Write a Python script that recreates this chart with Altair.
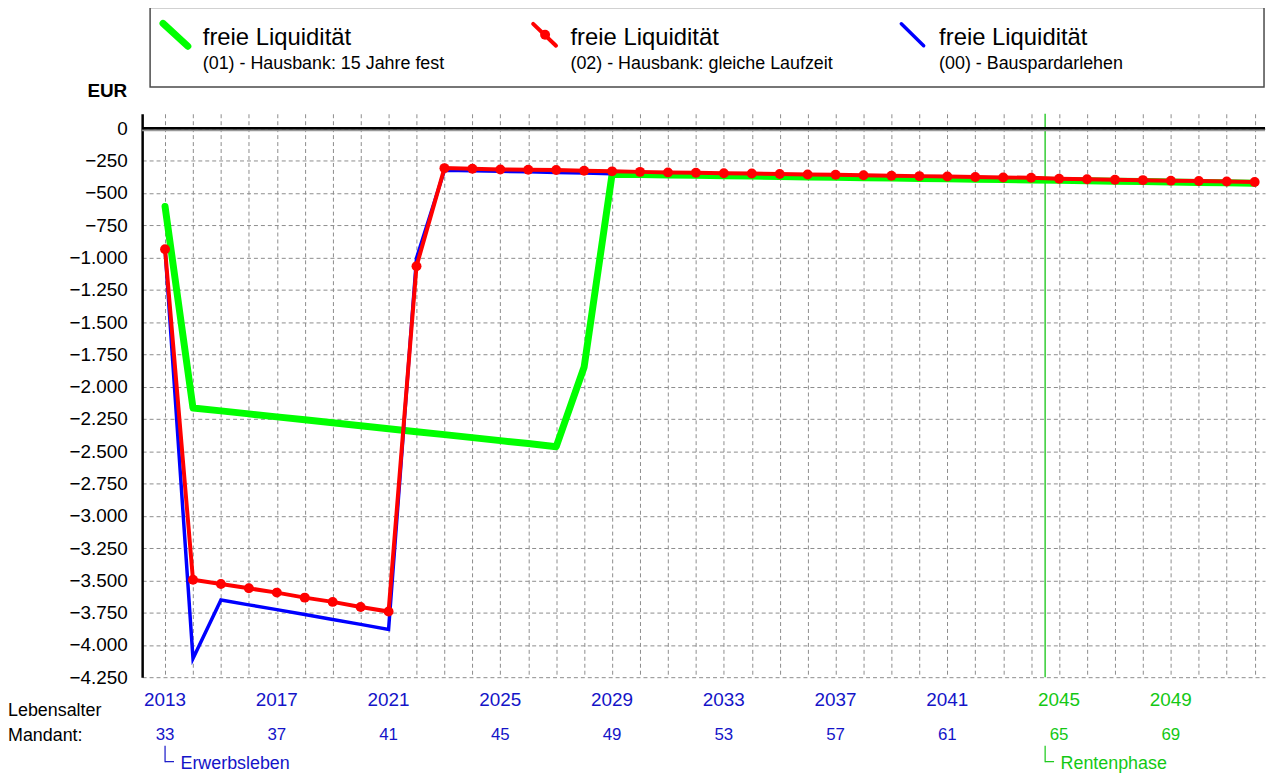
import altair as alt
import pandas as pd

# ---------------- data ----------------
years_01 = list(range(2013, 2053))
values_01 = [-605, -2165, -2188, -2211, -2234, -2257, -2280, -2303, -2326, -2349,
             -2372, -2395, -2418, -2441, -2465, -1848, -355, -358, -361, -364,
             -367, -370, -373, -376, -379, -382, -385, -388, -391, -394,
             -397, -400, -403, -406, -409, -412, -416, -419, -422, -425]

years_02 = list(range(2013, 2053))
values_02 = [-936, -3496, -3529, -3562, -3595, -3634, -3667, -3706, -3742, -1067,
             -308, -313, -318, -321, -323, -328, -333, -337, -341, -344,
             -347, -350, -353, -357, -360, -363, -367, -370, -373, -377,
             -380, -383, -390, -394, -398, -401, -405, -408, -412, -416]

years_00 = list(range(2013, 2030))
values_00 = [-936, -4106, -3652, -3690, -3727, -3765, -3803, -3841, -3880, -1005,
             -325, -329, -333, -337, -341, -346, -351]

y_tick_values = list(range(-4250, 1, 250))
grid_years = list(range(2013, 2053))
zero_line = [0]

label_years = list(range(2013, 2050, 4))
label_ages = list(range(33, 70, 4))
label_phase = ["Erwerbsleben"] * 8 + ["Rentenphase"] * 2

phase_names = ["Erwerbsleben", "Rentenphase"]
phase_start = [2013, 2044.5]

legend_main = ["freie Liquidität", "freie Liquidität", "freie Liquidität"]
legend_sub = ["(01) - Hausbank: 15 Jahre fest",
              "(02) - Hausbank: gleiche Laufzeit",
              "(00) - Bauspardarlehen"]

# ---------------- styling ----------------
FONT = "Liberation Sans"
W, H = 1130, 567
BLUE_TXT = "#1414c8"
GREEN_TXT = "#14c814"

xs = alt.Scale(domain=[2012.18, 2052.37], nice=False, zero=False)
ys = alt.Scale(domain=[-4250, 113], nice=False, zero=False)
phase_scale = alt.Scale(domain=phase_names, range=[BLUE_TXT, GREEN_TXT])

x_axis = alt.Axis(values=grid_years, labels=False, ticks=False, domain=False,
                  grid=True, gridDash=[4, 3], gridColor="#8c8c8c", gridWidth=1,
                  title=None)
y_axis = alt.Axis(values=y_tick_values,
                  labelExpr="replace(format(datum.value, ','), ',', '.')",
                  labelFontSize=19, labelFont=FONT, labelColor="black",
                  labelPadding=15, ticks=False, domain=True, domainColor="black",
                  domainWidth=2.5, grid=True, gridDash=[4, 3], gridColor="#8c8c8c",
                  gridWidth=1, title=None)


def X(field="year:Q"):
    return alt.X(field, scale=xs, axis=x_axis, title=None)


def Y(field="value:Q"):
    return alt.Y(field, scale=ys, axis=y_axis, title=None)


df01 = pd.DataFrame({"year": years_01, "value": values_01})
df02 = pd.DataFrame({"year": years_02, "value": values_02})
df00 = pd.DataFrame({"year": years_00, "value": values_00})
dfzero = pd.DataFrame({"value": zero_line})
dflab = pd.DataFrame({"year": label_years, "age": label_ages, "phase": label_phase})
dfphase = pd.DataFrame({"phase": phase_names, "year": phase_start})
dfleg = pd.DataFrame({"main": legend_main, "sub": legend_sub, "idx": [0, 1, 2]})
one = pd.DataFrame({"a": [0]})

zero_gray = alt.Chart(dfzero).mark_rule(color="#9a9a9a", strokeWidth=2, yOffset=2).encode(y=Y())
zero_black = alt.Chart(dfzero).mark_rule(color="black", strokeWidth=2.5).encode(y=Y())

rente_line = alt.Chart(dfphase).transform_filter(
    alt.datum.phase == "Rentenphase").mark_rule(color="#33cc33", strokeWidth=1.5).encode(x=X())

line01 = alt.Chart(df01).mark_line(color="#00ff00", strokeWidth=7, strokeCap="round",
                                   strokeJoin="round").encode(x=X(), y=Y())
line00 = alt.Chart(df00).mark_line(color="#0000ff", strokeWidth=3.5).encode(x=X(), y=Y())
line02 = alt.Chart(df02).mark_line(color="#ff0000", strokeWidth=4).encode(x=X(), y=Y())
pts02 = alt.Chart(df02).mark_point(color="#ff0000", filled=True, size=100, opacity=1).encode(
    x=X(), y=Y())

year_txt = alt.Chart(dflab).mark_text(font=FONT, fontSize=19, baseline="alphabetic",
                                      align="center").encode(
    x=X(), y=alt.value(595.5),
    text=alt.Text("year:Q", format="d"),
    color=alt.Color("phase:N", scale=phase_scale, legend=None))
age_txt = alt.Chart(dflab).mark_text(font=FONT, fontSize=17, baseline="alphabetic",
                                     align="center").encode(
    x=X(), y=alt.value(630.5),
    text=alt.Text("age:Q", format="d"),
    color=alt.Color("phase:N", scale=phase_scale, legend=None))

phase_txt = alt.Chart(dfphase).mark_text(font=FONT, fontSize=18, baseline="alphabetic",
                                         align="left", dx=15.5).encode(
    x=X(), y=alt.value(659.5),
    text="phase:N",
    color=alt.Color("phase:N", scale=phase_scale, legend=None))
phase_v = alt.Chart(dfphase).mark_rule(strokeWidth=1.2).encode(
    x=X(), y=alt.value(636), y2=alt.value(652.5),
    color=alt.Color("phase:N", scale=phase_scale, legend=None))
phase_h = alt.Chart(dfphase).transform_calculate(yend="datum.year + 0.32").mark_rule(
    strokeWidth=1.2).encode(
    x=X(), x2="yend:Q", y=alt.value(652),
    color=alt.Color("phase:N", scale=phase_scale, legend=None))

lebens = alt.Chart(one).mark_text(font=FONT, fontSize=18, align="left", baseline="alphabetic",
                                  color="black", text="Lebensalter").encode(
    x=alt.value(-135), y=alt.value(606.5))
mandant = alt.Chart(one).mark_text(font=FONT, fontSize=18, align="left", baseline="alphabetic",
                                   color="black", text="Mandant:").encode(
    x=alt.value(-135), y=alt.value(631))
eur = alt.Chart(one).mark_text(font=FONT, fontSize=19, fontWeight="bold", align="right",
                               baseline="alphabetic", color="black", text="EUR").encode(
    x=alt.value(-15), y=alt.value(-17))

# legend
leg_box = alt.Chart(one).mark_rect(fill="white", stroke="#4a4a4a", strokeWidth=1.5).encode(
    x=alt.value(8), x2=alt.value(1129), y=alt.value(-107), y2=alt.value(-27))
sym01 = alt.Chart(one).mark_rule(color="#00ff00", strokeWidth=7, strokeCap="round").encode(
    x=alt.value(21), x2=alt.value(46), y=alt.value(-91), y2=alt.value(-68))
sym02 = alt.Chart(one).mark_rule(color="#ff0000", strokeWidth=4, strokeCap="round").encode(
    x=alt.value(393.5), x2=alt.value(416.5), y=alt.value(-90.5), y2=alt.value(-68.5))
sym02p = alt.Chart(one).mark_point(color="#ff0000", filled=True, size=100, opacity=1).encode(
    x=alt.value(405.5), y=alt.value(-79.5))
sym00 = alt.Chart(one).mark_rule(color="#0000ff", strokeWidth=3.5, strokeCap="round").encode(
    x=alt.value(764), x2=alt.value(786.5), y=alt.value(-90.5), y2=alt.value(-68.5))

leg_x = [61, 431, 802]
leg_layers = []
for i, lx in enumerate(leg_x):
    sub_df = dfleg[dfleg["idx"] == i]
    leg_layers.append(alt.Chart(sub_df).mark_text(font=FONT, fontSize=24, align="left",
                                                  baseline="alphabetic", color="black").encode(
        x=alt.value(lx), y=alt.value(-69), text="main:N"))
    leg_layers.append(alt.Chart(sub_df).mark_text(font=FONT, fontSize=18, align="left",
                                                  baseline="alphabetic", color="black").encode(
        x=alt.value(lx), y=alt.value(-45.5), text="sub:N"))

chart = alt.layer(
    rente_line, zero_gray, zero_black, line01, line00, line02, pts02,
    year_txt, age_txt, phase_txt, phase_v, phase_h, lebens, mandant, eur,
    leg_box, sym01, sym02, sym02p, sym00, *leg_layers
).properties(
    width=W, height=H,
    autosize=alt.AutoSizeParams(type="none"),
    padding={"left": 135, "top": 104, "right": 2, "bottom": 95},
).configure_view(stroke=None)

chart.save("out.html", embed_options={"renderer": "svg", "actions": False})
